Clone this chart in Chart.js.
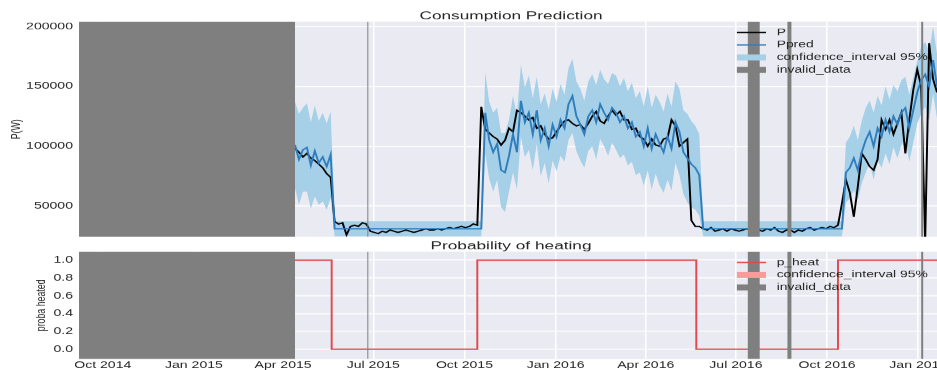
<!DOCTYPE html>
<html>
<head>
<meta charset="utf-8">
<title>Consumption Prediction</title>
<script src="https://cdn.jsdelivr.net/npm/chart.js@4.4.1/dist/chart.umd.min.js"></script>
<style>
  html, body { margin: 0; padding: 0; background: #ffffff; width: 937px; height: 370px; overflow: hidden; }
  /* both panels are drawn narrow and widened horizontally */
  .panel { position: absolute; left: 0; transform-origin: 0 0; transform: scaleX(1.5); }
  #topPanel { top: 0; }
  #bottomPanel { top: 240px; }
</style>
</head>
<body>
<canvas id="topPanel" class="panel" width="632" height="240"></canvas>
<canvas id="bottomPanel" class="panel" width="632" height="130"></canvas>
<script>
// ---- time axis -------------------------------------------------------------
const X_MIN_DATE = '2014-09-07';
const X_MAX_DATE = '2017-01-26';
const FIRST_SAMPLE = '2015-04-13';   // first measured day
const SAMPLE_STEP_DAYS = 4;          // one sample every 4 days
const QUARTER_TICKS = ['2014-10-01', '2015-01-01', '2015-04-01', '2015-07-01', '2015-10-01',
                       '2016-01-01', '2016-04-01', '2016-07-01', '2016-10-01', '2017-01-01'];
const MONTHS = ['Jan', 'Feb', 'Mar', 'Apr', 'May', 'Jun', 'Jul', 'Aug', 'Sep', 'Oct', 'Nov', 'Dec'];

// periods flagged as invalid data
const INVALID_PERIODS = [
  ['2014-09-07', '2015-04-13'],
  ['2015-06-25', '2015-06-26'],
  ['2016-07-13', '2016-07-25'],
  ['2016-08-22', '2016-08-26'],
  ['2017-01-04', '2017-01-06']
];

// ---- measured power P (kW) -----------------------------------------------
const P_KW = [
  // spring 2015
  98, 95, 91, 94, 90, 88, 85, 82, 77, 74,
  // summer 2015
  37, 35, 36, 26, 33, 34, 33, 36, 35, 29, 28, 27, 29, 28, 30, 29, 28, 29, 30,
  29, 28, 29, 30, 31, 30, 30, 31, 30, 31, 32, 31, 32, 33, 32, 33, 35, 34,
  // winter 2015-2016
  133, 114, 111, 108, 106, 101, 105, 115, 112, 130, 128, 125, 122, 124, 115, 117, 110, 106, 107, 112,
  117, 121, 122, 119, 117, 118, 114, 119, 125, 129, 121, 119, 125, 130, 126, 129, 122, 122, 114, 115,
  108, 106, 100, 106, 101, 100, 106, 107, 122, 117, 100, 103, 106, 38, 33,
  // summer 2016
  33, 31, 30, 32, 29, 30, 31, 29, 31, 30, 29, 30, 31, 30, 30, 30, 29, 31, 30, 32,
  29, 28, 30, 30, 28, 30, 29, 31, 32, 30, 31, 32, 31, 33, 32, 34,
  // winter 2016-2017
  52, 72, 61, 41, 66, 94, 89, 83, 80, 89, 122, 114, 122, 110, 119, 128, 94, 122, 147, 164,
  150, 20, 186, 156, 145
];

// ---- predicted power Ppred (kW) ------------------------------------------
const PPRED_KW = [
  101, 89, 97, 99, 84, 96, 86, 91, 83, 93,
  31, 31, 31, 31, 31, 31, 31, 31, 31, 31, 31, 31, 31, 31, 31, 31, 31, 31, 31,
  31, 31, 31, 31, 31, 31, 31, 31, 31, 31, 31, 31, 31, 31, 31, 31, 31, 31, 31,
  128, 105, 95, 102, 80, 78, 92, 110, 95, 138, 120, 128, 110, 130, 105, 115, 100, 118, 108, 122,
  115, 135, 142, 125, 118, 110, 125, 130, 120, 135, 128, 122, 132, 128, 120, 125, 115, 120, 108, 112,
  100, 115, 98, 110, 102, 95, 108, 98, 120, 112, 95, 90, 85, 82, 76,
  31, 31, 31, 31, 31, 31, 31, 31, 31, 31, 31, 31, 31, 31, 31, 31, 31, 31, 31, 31,
  31, 31, 31, 31, 31, 31, 31, 31, 31, 31, 31, 31, 31, 31, 31, 31,
  78, 82, 90, 80, 95, 105, 112, 100, 115, 108, 122, 112, 125, 118, 128, 132, 115, 130, 145, 155,
  160, 150, 172, 150, 145
];

// ---- half width of the 95% confidence interval (kW) ----------------------
const CI_HALF_KW = [
  36, 38, 35, 37, 36, 38, 35, 37, 36, 36,
  6.3, 6.3, 6.3, 6.3, 6.3, 6.3, 6.3, 6.3, 6.3, 6.3, 6.3, 6.3, 6.3, 6.3, 6.3, 6.3, 6.3, 6.3, 6.3,
  6.3, 6.3, 6.3, 6.3, 6.3, 6.3, 6.3, 6.3, 6.3, 6.3, 6.3, 6.3, 6.3, 6.3, 6.3, 6.3, 6.3, 6.3, 6.3,
  34, 32, 33, 30, 31, 33, 30, 32, 31, 30, 29, 31, 30, 28, 30, 29, 31, 30, 29, 30,
  28, 30, 31, 29, 30, 28, 29, 30, 31, 29, 28, 30, 29, 31, 30, 32, 31, 33, 32, 34,
  33, 35, 34, 33, 35, 34, 36, 35, 34, 36, 35, 37, 36, 35, 34,
  6.3, 6.3, 6.3, 6.3, 6.3, 6.3, 6.3, 6.3, 6.3, 6.3, 6.3, 6.3, 6.3, 6.3, 6.3, 6.3, 6.3, 6.3, 6.3, 6.3,
  6.3, 6.3, 6.3, 6.3, 6.3, 6.3, 6.3, 6.3, 6.3, 6.3, 6.3, 6.3, 6.3, 6.3, 6.3, 6.3,
  25, 26, 27, 25, 26, 27, 26, 28, 27, 26, 28, 27, 26, 28, 27, 26, 28, 27, 26, 28,
  27, 29, 28, 27, 26
];

// ---- heating probability (step changes) ----------------------------------
const HEAT_DATES = ['2015-04-13', '2015-05-20', '2015-10-14', '2016-05-22', '2016-10-12', '2017-01-26'];
const HEAT_VALUES = [1, 0, 1, 0, 1, 1];

// ---- axis ticks ------------------------------------------------------------
const POWER_TICKS = [50000, 100000, 150000, 200000];
const PROBA_TICKS = [0, 0.2, 0.4, 0.6, 0.8, 1.0];

// ---- styling ---------------------------------------------------------------
const FONT = '"Liberation Sans", Arial, Helvetica, sans-serif';
const TEXT = '#262626';
const PANEL_BG = '#EAEAF2';
const GRID = '#FFFFFF';
const INVALID_GREY = '#7f7f7f';
const P_BLACK = '#000000';
const PRED_BLUE = '#2f7dbd';
const CI_BLUE = '#a6d0e7';
const HEAT_RED = '#e3484c';
const CI_RED = '#fb9a9a';
const STRETCH = 1.5;
const AXIS_LEFT = 79 / STRETCH;      // width reserved for the y axis
const RIGHT_PAD = 632 - 943 / STRETCH;

// ---- helpers ---------------------------------------------------------------
const DAY_MS = 86400000;
const EPOCH = Date.UTC(2015, 0, 1);
function dayOf(iso) {
  const [y, m, d] = iso.split('-').map(Number);
  return (Date.UTC(y, m - 1, d) - EPOCH) / DAY_MS;
}
const X_MIN = dayOf(X_MIN_DATE);
const X_MAX = dayOf(X_MAX_DATE);
const firstDay = dayOf(FIRST_SAMPLE);
const sampleDays = P_KW.map((_, i) => firstDay + i * SAMPLE_STEP_DAYS);
const tickDays = QUARTER_TICKS.map(dayOf);
const tickLabel = {};
QUARTER_TICKS.forEach(iso => {
  const [y, m] = iso.split('-').map(Number);
  tickLabel[dayOf(iso)] = MONTHS[m - 1] + ' ' + y;
});
const invalidDays = INVALID_PERIODS.map(([s, e]) => [dayOf(s), dayOf(e)]);

const toPoints = (xs, ys, k) => xs.map((x, i) => ({ x, y: ys[i] * k }));
const ciLow = PPRED_KW.map((v, i) => v - CI_HALF_KW[i]);
const ciHigh = PPRED_KW.map((v, i) => v + CI_HALF_KW[i]);

// background, invalid bands, title, y label and legend of one panel
function panelDecor(cfg) {
  return {
    id: 'panelDecor',
    beforeDraw(chart) {
      const { ctx, chartArea: a } = chart;
      ctx.save();
      ctx.fillStyle = PANEL_BG;
      ctx.fillRect(a.left, a.top, a.right - a.left, a.bottom - a.top);
      ctx.restore();
    },
    afterDatasetsDraw(chart) {
      const { ctx, chartArea: a } = chart;
      const xs = chart.scales.x;
      ctx.save();
      ctx.beginPath();
      ctx.rect(a.left, a.top, a.right - a.left, a.bottom - a.top);
      ctx.clip();
      ctx.fillStyle = INVALID_GREY;
      invalidDays.forEach(([s, e]) => {
        const x0 = xs.getPixelForValue(s);
        const x1 = xs.getPixelForValue(e);
        ctx.fillRect(x0, a.top, x1 - x0, a.bottom - a.top);
      });
      ctx.restore();
    },
    afterDraw(chart) {
      const { ctx, chartArea: a } = chart;
      ctx.save();
      ctx.fillStyle = TEXT;
      // title
      ctx.font = '11.5px ' + FONT;
      ctx.textAlign = 'center';
      ctx.textBaseline = 'alphabetic';
      ctx.fillText(cfg.title, (a.left + a.right) / 2, a.top - 2.6);
      // y axis label
      ctx.save();
      ctx.translate(cfg.yLabelX, (a.top + a.bottom) / 2);
      ctx.rotate(-Math.PI / 2);
      ctx.font = '8.8px ' + FONT;
      ctx.textBaseline = 'middle';
      ctx.fillText(cfg.yLabel, 0, 0);
      ctx.restore();
      // legend
      const sx = a.right - 137.4;
      const sw = 19.4;
      const tx = sx + 26.5;
      cfg.legend.forEach((item, i) => {
        const y = a.top + 10.8 + i * 12.45;
        if (item.kind === 'line') {
          ctx.strokeStyle = item.color;
          ctx.lineWidth = 1.4;
          ctx.beginPath();
          ctx.moveTo(sx, y);
          ctx.lineTo(sx + sw, y);
          ctx.stroke();
        } else {
          ctx.fillStyle = item.color;
          ctx.fillRect(sx, y - 3, sw, 6);
        }
        ctx.fillStyle = TEXT;
        ctx.font = '9.25px ' + FONT;
        ctx.textAlign = 'left';
        ctx.textBaseline = 'middle';
        ctx.fillText(item.label, tx, y);
      });
      ctx.restore();
    }
  };
}

function xScale(showLabels) {
  return {
    type: 'linear',
    min: X_MIN,
    max: X_MAX,
    afterBuildTicks: s => { s.ticks = tickDays.map(v => ({ value: v })); },
    afterFit: s => {
      s.height = showLabels ? 11 : 0;
      s.paddingLeft = 0;
      s.paddingRight = 0;
    },
    grid: { color: GRID, lineWidth: 1, drawTicks: false },
    border: { display: false },
    ticks: {
      display: showLabels,
      autoSkip: false,
      maxRotation: 0,
      padding: 1,
      color: TEXT,
      font: { family: FONT, size: 9.4 },
      callback: v => tickLabel[v] || ''
    }
  };
}

function yScale(min, max, ticks, fmt) {
  return {
    min, max,
    afterBuildTicks: s => { s.ticks = ticks.map(v => ({ value: v })); },
    afterFit: s => {
      s.width = AXIS_LEFT;
      s.paddingTop = 0;
      s.paddingBottom = 0;
    },
    grid: { color: GRID, lineWidth: 1, drawTicks: false },
    border: { display: false },
    ticks: { padding: 4, color: TEXT, font: { family: FONT, size: 9.4 }, callback: fmt }
  };
}

const common = {
  responsive: false,
  animation: false,
  devicePixelRatio: STRETCH,
  events: [],
  plugins: { legend: { display: false }, tooltip: { enabled: false }, title: { display: false } }
};

// ---- top panel: consumption -----------------------------------------------
new Chart(document.getElementById('topPanel'), {
  type: 'line',
  data: {
    datasets: [
      { label: 'ci_low', data: toPoints(sampleDays, ciLow, 1000), borderWidth: 0, pointRadius: 0, fill: false, order: 3 },
      { label: 'confidence_interval 95%', data: toPoints(sampleDays, ciHigh, 1000), borderWidth: 0, pointRadius: 0,
        fill: '-1', backgroundColor: CI_BLUE, order: 2 },
      { label: 'P', data: toPoints(sampleDays, P_KW, 1000), borderColor: P_BLACK, borderWidth: 1.3,
        pointRadius: 0, fill: false, order: 1 },
      { label: 'Ppred', data: toPoints(sampleDays, PPRED_KW, 1000), borderColor: PRED_BLUE, borderWidth: 1.3,
        pointRadius: 0, fill: false, order: 0 }
    ]
  },
  options: Object.assign({}, common, {
    layout: { padding: { top: 21.7, bottom: 3.3, left: 0, right: RIGHT_PAD } },
    scales: {
      x: xScale(false),
      y: yScale(24400, 204000, POWER_TICKS, v => String(v))
    }
  }),
  plugins: [panelDecor({
    title: 'Consumption Prediction',
    yLabel: 'P(W)',
    yLabelX: 10.7,
    legend: [
      { kind: 'line', color: P_BLACK, label: 'P' },
      { kind: 'line', color: PRED_BLUE, label: 'Ppred' },
      { kind: 'box', color: CI_BLUE, label: 'confidence_interval 95%' },
      { kind: 'box', color: INVALID_GREY, label: 'invalid_data' }
    ]
  })]
});

// ---- bottom panel: heating probability ------------------------------------
const heatPoints = HEAT_DATES.map((iso, i) => ({ x: dayOf(iso), y: HEAT_VALUES[i] }));
new Chart(document.getElementById('bottomPanel'), {
  type: 'line',
  data: {
    datasets: [
      { label: 'p_heat', data: heatPoints, stepped: 'before', borderColor: HEAT_RED, borderWidth: 1.3,
        pointRadius: 0, fill: false, order: 0 },
      { label: 'confidence_interval 95%', data: heatPoints, stepped: 'before', borderWidth: 0,
        pointRadius: 0, fill: false, backgroundColor: CI_RED, order: 1 }
    ]
  },
  options: Object.assign({}, common, {
    layout: { padding: { top: 11.7, bottom: 0, left: 0, right: RIGHT_PAD } },
    scales: {
      x: xScale(true),
      y: yScale(-0.11, 1.095, PROBA_TICKS, v => Number(v).toFixed(1))
    }
  }),
  plugins: [panelDecor({
    title: 'Probability of heating',
    yLabel: 'proba heated',
    yLabelX: 27.8,
    legend: [
      { kind: 'line', color: HEAT_RED, label: 'p_heat' },
      { kind: 'box', color: CI_RED, label: 'confidence_interval 95%' },
      { kind: 'box', color: INVALID_GREY, label: 'invalid_data' }
    ]
  })]
});
</script>
</body>
</html>
